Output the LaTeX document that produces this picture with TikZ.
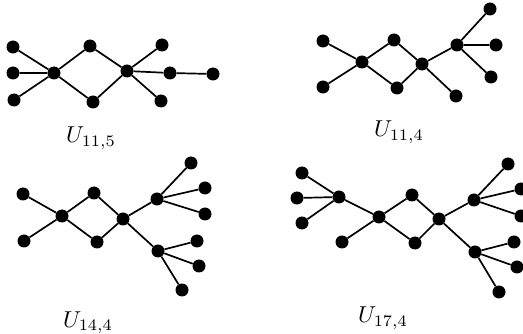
\documentclass[tikz,border=0pt]{standalone}
\usepackage{graphicx}
\newcommand{\biglabel}[1]{\scalebox{2.3}{$#1$}}
\begin{document}
\begin{tikzpicture}[x=1pt,y=-1pt,
  vtx/.style={circle,fill=black,inner sep=0pt,minimum size=13pt},
  edge/.style={line width=1.7pt},
  glabel/.style={anchor=base,inner sep=0pt}]
\useasboundingbox (0,0) rectangle (523,334);
\begin{scope}
\clip (0,0) rectangle (523,334);

% ---- U_{11,5}
\node[vtx] (a1) at (13,47) {};
\node[vtx] (a2) at (13,73) {};
\node[vtx] (a3) at (14,100) {};
\node[vtx] (ac1) at (54,73) {};
\node[vtx] (at) at (90,46) {};
\node[vtx] (ab) at (93,102) {};
\node[vtx] (ac2) at (127,71) {};
\node[vtx] (ar1) at (162,45) {};
\node[vtx] (ar2) at (170,73) {};
\node[vtx] (ar3) at (213,74) {};
\node[vtx] (ar4) at (161,101) {};
\draw[edge] (a1)--(ac1) (a2)--(ac1) (a3)--(ac1)
  (ac1)--(at)--(ac2)--(ab)--(ac1)
  (ac2)--(ar1) (ac2)--(ar2)--(ar3) (ac2)--(ar4);
\node[glabel] (la) at (91,143) {\biglabel{U_{11,5}}};

% ---- U_{11,4}
\node[vtx] (b1) at (323,41) {};
\node[vtx] (b2) at (323,87) {};
\node[vtx] (bc1) at (362,62) {};
\node[vtx] (bt) at (394,40) {};
\node[vtx] (bb) at (397,88) {};
\node[vtx] (bc2) at (422,64) {};
\node[vtx] (br4) at (456,96) {};
\node[vtx] (bh) at (457,45) {};
\node[vtx] (bh1) at (490,9) {};
\node[vtx] (bh2) at (496,45) {};
\node[vtx] (bh3) at (491,77) {};
\draw[edge] (b1)--(bc1) (b2)--(bc1)
  (bc1)--(bt)--(bc2)--(bb)--(bc1)
  (bc2)--(br4) (bc2)--(bh)
  (bh)--(bh1) (bh)--(bh2) (bh)--(bh3);
\node[glabel] (lb) at (399,137) {\biglabel{U_{11,4}}};

% ---- U_{14,4}
\node[vtx] (c1) at (23,194) {};
\node[vtx] (c2) at (24,241) {};
\node[vtx] (cc1) at (62,216) {};
\node[vtx] (ct) at (94,193) {};
\node[vtx] (cb) at (97,242) {};
\node[vtx] (cc2) at (123,219) {};
\node[vtx] (ch1) at (157,199) {};
\node[vtx] (ch1a) at (191,163) {};
\node[vtx] (ch1b) at (205,188) {};
\node[vtx] (ch1c) at (205,214) {};
\node[vtx] (ch2) at (158,251) {};
\node[vtx] (ch2a) at (197,241) {};
\node[vtx] (ch2b) at (199,266) {};
\node[vtx] (ch2c) at (182,290) {};
\draw[edge] (c1)--(cc1) (c2)--(cc1)
  (cc1)--(ct)--(cc2)--(cb)--(cc1)
  (cc2)--(ch1) (cc2)--(ch2)
  (ch1)--(ch1a) (ch1)--(ch1b) (ch1)--(ch1c)
  (ch2)--(ch2a) (ch2)--(ch2b) (ch2)--(ch2c);
\node[glabel] (lc) at (88,327) {\biglabel{U_{14,4}}};

% ---- U_{17,4}
\node[vtx] (d0) at (339,197) {};
\node[vtx] (d0a) at (302,173) {};
\node[vtx] (d0b) at (297,198) {};
\node[vtx] (d0c) at (302,223) {};
\node[vtx] (dc1) at (379,217) {};
\node[vtx] (d2) at (342,242) {};
\node[vtx] (dt) at (412,195) {};
\node[vtx] (db) at (415,243) {};
\node[vtx] (dc2) at (439,219) {};
\node[vtx] (dh1) at (474,200) {};
\node[vtx] (dh1a) at (508,164) {};
\node[vtx] (dh1b) at (521,189) {};
\node[vtx] (dh1c) at (521,216) {};
\node[vtx] (dh2) at (475,252) {};
\node[vtx] (dh2a) at (514,242) {};
\node[vtx] (dh2b) at (517,267) {};
\node[vtx] (dh2c) at (499,292) {};
\draw[edge] (d0a)--(d0) (d0b)--(d0) (d0c)--(d0) (d0)--(dc1) (d2)--(dc1)
  (dc1)--(dt)--(dc2)--(db)--(dc1)
  (dc2)--(dh1) (dc2)--(dh2)
  (dh1)--(dh1a) (dh1)--(dh1b) (dh1)--(dh1c)
  (dh2)--(dh2a) (dh2)--(dh2b) (dh2)--(dh2c);
\node[glabel] (ld) at (383,323) {\biglabel{U_{17,4}}};
\end{scope}
\end{tikzpicture}
\end{document}
